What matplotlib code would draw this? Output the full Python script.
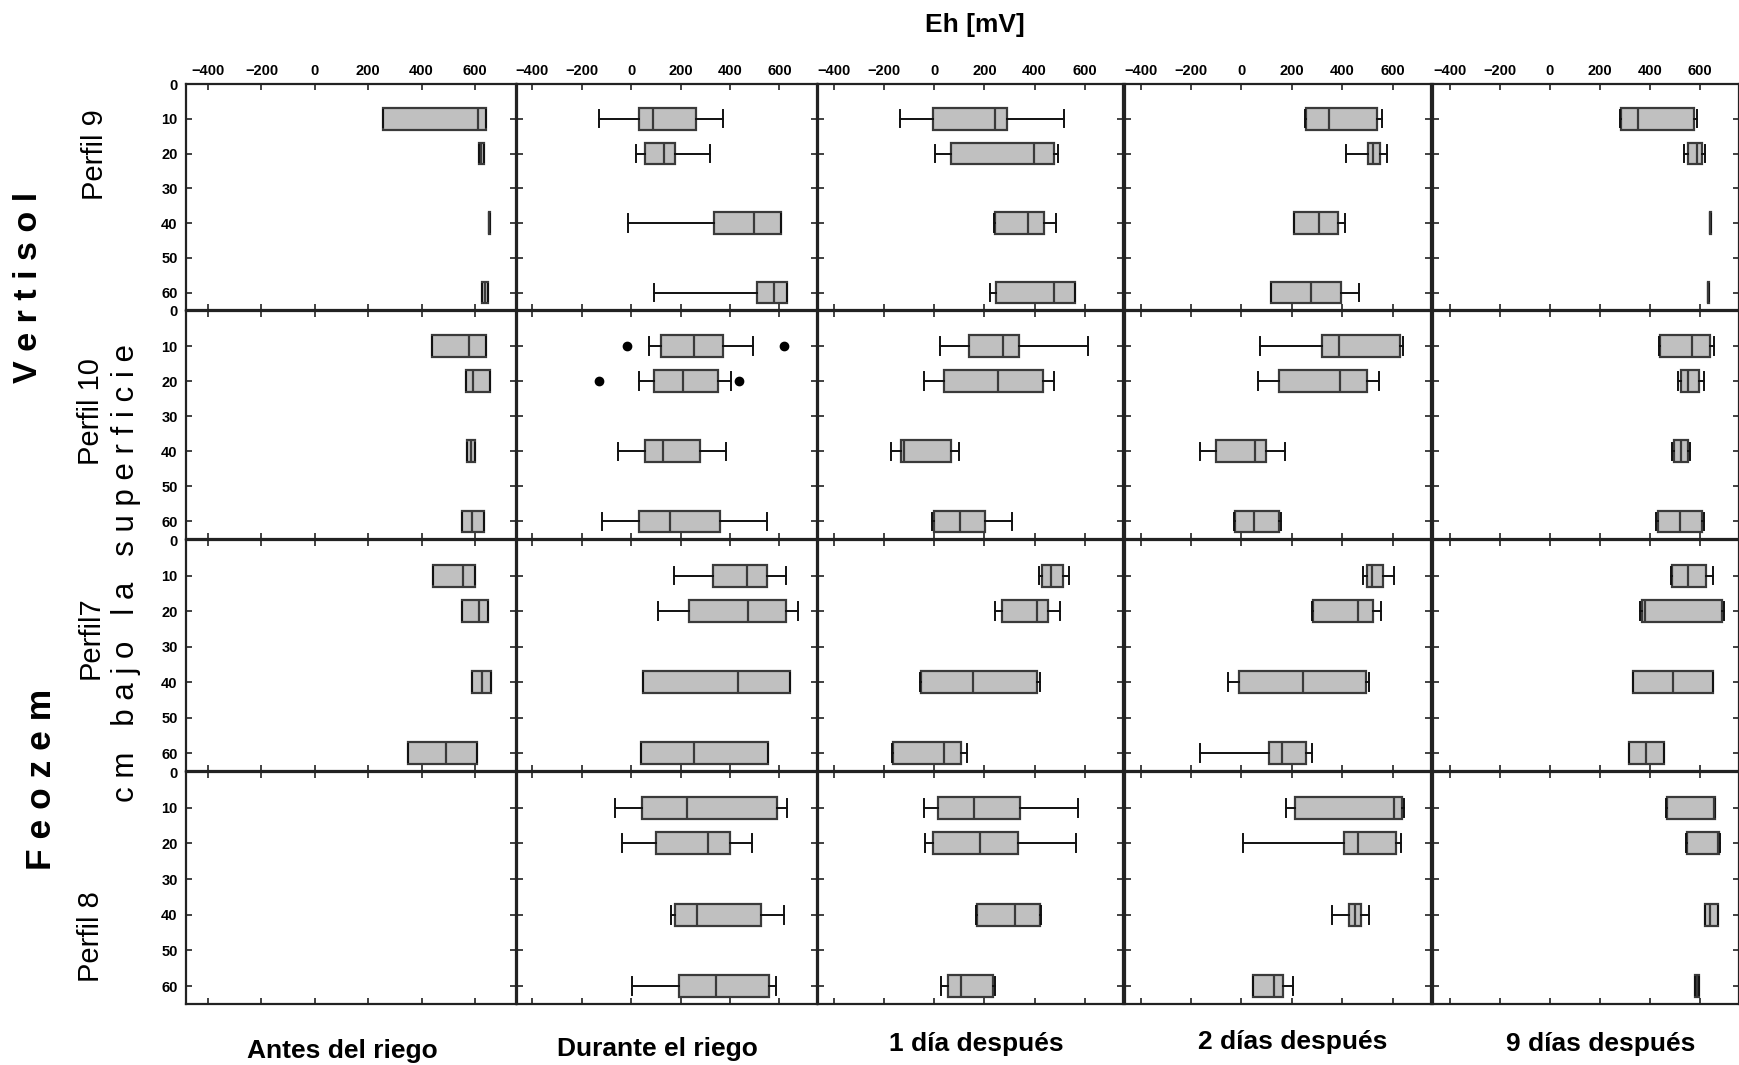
import numpy as np
import matplotlib
matplotlib.use("Agg")
import matplotlib.pyplot as plt

plt.rcParams['font.family'] = ['Liberation Sans', 'DejaVu Sans']

# ---------------- data ----------------
depths = [10, 20, 40, 60]
col_titles = ["Antes del riego", "Durante el riego", "1 día después",
              "2 días después", "9 días después"]
row_labels = ["Perfil 9", "Perfil 10", "Perfil7", "Perfil 8"]
x_ticks = [-400, -200, 0, 200, 400, 600]
y_ticks = [0, 10, 20, 30, 40, 50, 60]

# each list: 5 columns (periods) x 4 depths
p9_q1 = [[256, 614, 651, 625], [32, 56, 336, 510], [-6, 68, 242, 248],
         [257, 503, 210, 119], [285, 554, 639, 632]]
p9_med = [[610, 622, 653, 637], [88, 134, 499, 576], [242, 399, 373, 476],
          [347, 523, 306, 275], [353, 589, 641, 634]]
p9_q3 = [[640, 634, 655, 649], [262, 176, 605, 629], [291, 479, 437, 562],
         [539, 550, 383, 394], [577, 610, 643, 636]]
p9_lo = [[256, 614, 651, 625], [-130, 18, -13, 93], [-134, 3, 239, 222],
         [251, 414, 210, 119], [281, 537, 639, 632]]
p9_hi = [[640, 634, 655, 649], [370, 317, 608, 629], [519, 494, 487, 562],
         [557, 577, 410, 466], [587, 620, 643, 636]]

p10_q1 = [[441, 565, 571, 552], [122, 93, 57, 33], [138, 38, -132, -2],
          [320, 147, -99, -26], [439, 526, 498, 431]]
p10_med = [[578, 593, 585, 589], [254, 211, 129, 156], [276, 254, -121, 103],
           [388, 392, 53, 51], [567, 554, 524, 519]]
p10_q3 = [[642, 658, 602, 634], [372, 352, 279, 361], [338, 434, 66, 203],
          [628, 498, 96, 150], [639, 597, 551, 610]]
p10_lo = [[441, 565, 571, 552], [74, 32, -52, -118], [22, -39, -172, -8],
          [74, 66, -166, -29], [435, 511, 487, 423]]
p10_hi = [[642, 658, 602, 634], [494, 404, 382, 550], [612, 479, 99, 309],
          [642, 544, 171, 157], [657, 615, 559, 615]]
p10_out = [[[], [], [], []], [[-16, 620], [-129, 438], [], []],
           [[], [], [], []], [[], [], [], []], [[], [], [], []]]

p7_q1 = [[442, 551, 588, 350], [331, 234, 47, 40], [430, 272, -54, -163],
         [497, 284, -11, 109], [490, 368, 332, 316]]
p7_med = [[554, 614, 625, 490], [470, 474, 432, 255], [464, 408, 153, 38],
          [519, 462, 246, 161], [552, 379, 494, 386]]
p7_q3 = [[602, 650, 659, 608], [549, 626, 641, 555], [514, 454, 408, 109],
         [561, 521, 494, 256], [625, 690, 652, 455]]
p7_lo = [[442, 551, 588, 350], [174, 108, 47, 40], [418, 244, -57, -169],
         [484, 281, -53, -163], [484, 360, 332, 316]]
p7_hi = [[602, 650, 659, 608], [628, 675, 641, 555], [536, 502, 422, 130],
         [605, 553, 505, 280], [652, 695, 652, 455]]

p8_q1 = [None, [45, 100, 178, 192], [16, -3, 169, 54],
         [214, 406, 427, 46], [467, 550, 619, 582]]
p8_med = [None, [224, 312, 266, 345], [159, 183, 322, 108],
          [605, 463, 449, 129], [656, 671, 640, 590]]
p8_q3 = [None, [590, 401, 526, 558], [344, 333, 423, 233],
         [636, 612, 473, 166], [662, 675, 671, 598]]
p8_lo = [None, [-67, -37, 162, 3], [-41, -38, 167, 27],
         [176, 8, 361, 45], [463, 544, 619, 582]]
p8_hi = [None, [630, 490, 618, 585], [574, 566, 427, 244],
         [644, 634, 506, 204], [662, 681, 671, 598]]

rows_data = [
    (p9_q1, p9_med, p9_q3, p9_lo, p9_hi, None),
    (p10_q1, p10_med, p10_q3, p10_lo, p10_hi, p10_out),
    (p7_q1, p7_med, p7_q3, p7_lo, p7_hi, None),
    (p8_q1, p8_med, p8_q3, p8_lo, p8_hi, None),
]

# ---------------- layout ----------------
W, H = 1739, 1065
fig = plt.figure(figsize=(W / 100, H / 100), dpi=100)

col_l = [186, 517, 818, 1125, 1433]
col_r = [516, 817, 1123, 1431, 1739]
row_t = [84, 311, 540, 772]
row_b = [310, 539, 771, 1004]
col_xlim = [(-483, 754), (-462, 752), (-462, 752), (-462, 752), (-466, 756)]

box_face = '#c0c0c0'
box_edge = '#3a3a3a'

for r in range(4):
    q1s, meds, q3s, los, his, outs = rows_data[r]
    for c in range(5):
        rect = [col_l[c] / W, 1 - row_b[r] / H,
                (col_r[c] - col_l[c]) / W, (row_b[r] - row_t[r]) / H]
        ax = fig.add_axes(rect)
        ax.set_xlim(*col_xlim[c])
        ax.set_ylim(65, 0)
        for s in ax.spines.values():
            s.set_linewidth(1.6)
            s.set_color('#222222')
        ax.set_xticks(x_ticks)
        ax.set_yticks(y_ticks)
        ax.tick_params(axis='both', direction='in', length=4, width=1.2,
                       top=True, bottom=True, left=True, right=True,
                       labelsize=10.5, colors='#222222', labelcolor='black')
        ax.tick_params(axis='x', labelbottom=False, labeltop=(r == 0), pad=4)
        ax.tick_params(axis='y', labelleft=(c == 0), pad=6)
        for lab in ax.get_xticklabels() + ax.get_yticklabels():
            lab.set_fontweight('bold')

        if q1s[c] is None:
            continue
        stats = []
        for i in range(len(depths)):
            fl = outs[c][i] if outs is not None else []
            stats.append(dict(q1=q1s[c][i], med=meds[c][i], q3=q3s[c][i],
                              whislo=los[c][i], whishi=his[c][i],
                              fliers=np.array(fl, dtype=float)))
        kw = dict(positions=depths, widths=6.2, patch_artist=True,
                  showfliers=True, manage_ticks=False, capwidths=5.0,
                  boxprops=dict(facecolor=box_face, edgecolor=box_edge, linewidth=1.6),
                  whiskerprops=dict(color='#111111', linewidth=1.4),
                  capprops=dict(color='#111111', linewidth=1.4),
                  medianprops=dict(color='#3a3a3a', linewidth=1.6),
                  flierprops=dict(marker='o', markerfacecolor='black',
                                  markeredgecolor='black', markersize=6))
        try:
            ax.bxp(stats, orientation='horizontal', **kw)
        except TypeError:
            ax.bxp(stats, vert=False, **kw)

# ---------------- texts ----------------
def fx(x):
    return x / W

def fy(y):
    return 1 - y / H

fig.text(fx(975), fy(32), "Eh [mV]", ha='center', va='baseline',
         fontsize=19, fontweight='bold')

title_x = [342, 657, 976, 1293, 1601]
title_y = [1058, 1056, 1051, 1049, 1051]
for t, x, y in zip(col_titles, title_x, title_y):
    fig.text(fx(x), fy(y), t, ha='center', va='baseline',
             fontsize=19, fontweight='bold')

perfil_pos = [(95, 155), (91, 412), (91, 638), (91, 937)]
for lab, (x, y) in zip(row_labels, perfil_pos):
    fig.text(fx(x), fy(y), lab, rotation=90, ha='center', va='center',
             fontsize=21)

fig.text(fx(29), fy(287), "V e r t i s o l", rotation=90, ha='center',
         va='center', fontsize=24.5, fontweight='bold')
fig.text(fx(42), fy(779), "F e o z e m", rotation=90, ha='center',
         va='center', fontsize=25.5, fontweight='bold')
fig.text(fx(126), fy(573), "c m   b a j o   l a   s u p e r f i c i e",
         rotation=90, ha='center', va='center', fontsize=22.5)

fig.savefig("out.png", dpi=100)
